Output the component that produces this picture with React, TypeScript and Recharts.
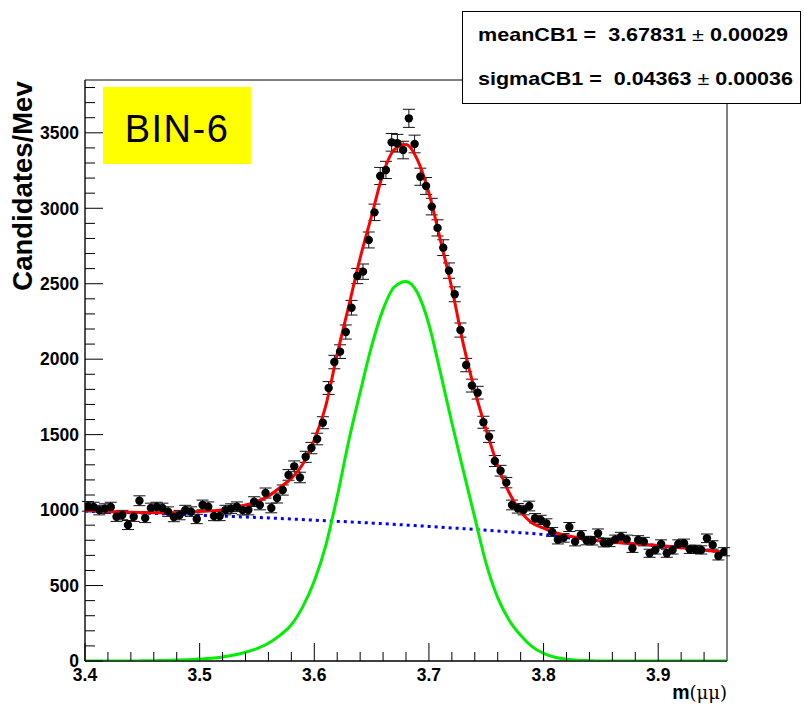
import React from 'react';
import { ComposedChart, XAxis, YAxis, Scatter, Line, ErrorBar, ReferenceArea } from 'recharts';

// Histogram definition (bin width 0.005 GeV starting at 3.40)
const binLow = 3.4;
const binWidth = 0.005;
const counts = [
  1025, 1020, 1000, 1010, 1020, 956, 967, 901, 956, 1062,
  948, 1014, 1020, 1014, 990, 954, 967, 1000, 990, 941,
  1034, 1022, 961, 961, 1000, 1010, 1022, 1000, 1000, 1056,
  1034, 1113, 1014, 1080, 1133, 1233, 1290, 1216, 1353, 1411,
  1471, 1579, 1809, 1981, 2050, 2180, 2341, 2551, 2580, 2790,
  2973, 3214, 3254, 3437, 3431, 3386, 3596, 3426, 3209, 3148,
  3011, 2870, 2739, 2587, 2430, 2193, 1961, 1825, 1778, 1582,
  1487, 1325, 1261, 1182, 1034, 1012, 1000, 1027, 946, 935,
  912, 855, 804, 816, 888, 791, 835, 798, 797, 846,
  784, 786, 806, 824, 806, 747, 802, 791, 714, 736,
  775, 714, 736, 775, 780, 740, 740, 736, 813, 769,
  696, 724,
];

// Fit curves, read on a 0.01 grid
const curveX = [
  3.40, 3.41, 3.42, 3.43, 3.44, 3.45, 3.46, 3.47, 3.48, 3.49,
  3.50, 3.51, 3.52, 3.53, 3.54, 3.55, 3.56, 3.57, 3.58, 3.59,
  3.60, 3.61, 3.62, 3.63, 3.64, 3.65, 3.66, 3.67, 3.68, 3.69,
  3.70, 3.71, 3.72, 3.73, 3.74, 3.75, 3.76, 3.77, 3.78, 3.79,
  3.80, 3.81, 3.82, 3.83, 3.84, 3.85, 3.86, 3.87, 3.88, 3.89,
  3.90, 3.91, 3.92, 3.93, 3.94, 3.95, 3.96,
];
const totalFit = [
  1000, 995, 990, 987, 985, 984, 983, 983, 984, 986,
  990, 995, 1001, 1016, 1034, 1056, 1092, 1150, 1210, 1305,
  1465, 1690, 2035, 2350, 2670, 2950, 3230, 3390, 3422, 3320,
  3100, 2790, 2470, 2100, 1790, 1530, 1295, 1115, 990, 915,
  880, 850, 832, 818, 806, 795, 788, 782, 777, 771,
  765, 758, 750, 743, 735, 727, 719,
];
const signalFit = [
  0, 0, 0, 0, 0, 1, 2, 4, 6, 9,
  13, 18, 27, 40, 58, 82, 118, 170, 240, 360,
  530, 765, 1090, 1456, 1780, 2086, 2330, 2480, 2515, 2440,
  2230, 1912, 1579, 1262, 950, 644, 420, 270, 170, 95,
  50, 25, 12, 5, 2, 0, 0, 0, 0, 0,
  0, 0, 0, 0, 0, 0, 0,
];
const bkgX = [
  3.40, 3.42, 3.44, 3.46, 3.48, 3.50, 3.52, 3.54, 3.56, 3.58,
  3.60, 3.62, 3.64, 3.66, 3.68, 3.70, 3.72, 3.74, 3.76, 3.78,
  3.80, 3.82, 3.84, 3.86, 3.88, 3.90, 3.92, 3.94, 3.96,
];
const bkgFit = [
  993, 988, 983, 978, 972, 966, 960, 954, 948, 941,
  933, 926, 918, 910, 901, 892, 882, 872, 861, 850,
  838, 818, 803, 789, 777, 765, 750, 735, 719,
];

const xTicks = [
  3.40, 3.42, 3.44, 3.46, 3.48, 3.50, 3.52, 3.54, 3.56, 3.58,
  3.60, 3.62, 3.64, 3.66, 3.68, 3.70, 3.72, 3.74, 3.76, 3.78,
  3.80, 3.82, 3.84, 3.86, 3.88, 3.90, 3.92, 3.94,
];
const xMajorLabels = ['3.4', '3.5', '3.6', '3.7', '3.8', '3.9'];
const yTicks = [
  0, 100, 200, 300, 400, 500, 600, 700, 800, 900,
  1000, 1100, 1200, 1300, 1400, 1500, 1600, 1700, 1800, 1900,
  2000, 2100, 2200, 2300, 2400, 2500, 2600, 2700, 2800, 2900,
  3000, 3100, 3200, 3300, 3400, 3500, 3600, 3700, 3800,
];
const xDomain = [3.4, 3.96];
const yDomain = [0, 3850];

const yTitle = 'Candidates/Mev';
const binLabel = 'BIN-6';
const statLines = [
  ['meanCB1 =  ', '3.67831', '0.00029'],
  ['sigmaCB1 =  ', '0.04363', '0.00036'],
];

const points = counts.map((c, i) => ({
  x: binLow + binWidth * (i + 0.5),
  y: c,
  err: Math.sqrt(c),
}));
const totalData = curveX.map((x, i) => ({ x, y: totalFit[i] }));
const signalData = curveX.map((x, i) => ({ x, y: signalFit[i] }));
const bkgData = bkgX.map((x, i) => ({ x, y: bkgFit[i] }));

const FONT = '"Liberation Sans", Arial, Helvetica, sans-serif';

const YTick = (props: any) => {
  const { x, y, payload } = props;
  const v = payload.value as number;
  const major = v % 500 === 0;
  const ax = x + 5;
  return (
    <g>
      <line x1={ax} x2={ax + (major ? 18 : 10)} y1={y} y2={y} stroke="#000" strokeWidth={1} />
      {major && (
        <text x={x - 1} y={y + 6.3} textAnchor="end" fontFamily={FONT} fontWeight="bold" fontSize={17.5} fill="#000">
          {v}
        </text>
      )}
    </g>
  );
};

const XTick = (props: any) => {
  const { x, y, payload } = props;
  const v = payload.value as number;
  const idx = Math.round(v * 10) - 34;
  const major = Math.abs(v * 10 - Math.round(v * 10)) < 1e-6;
  const ay = y - 5;
  return (
    <g>
      <line x1={x} x2={x} y1={ay} y2={ay - (major ? 18 : 9)} stroke="#000" strokeWidth={1} />
      {major && (
        <text x={x} y={ay + 19.5} textAnchor="middle" fontFamily={FONT} fontWeight="bold" fontSize={17.5} fill="#000">
          {xMajorLabels[idx]}
        </text>
      )}
    </g>
  );
};

const Dot = (props: any) => <circle cx={props.cx} cy={props.cy} r={4.2} fill="#000" />;

export default function App() {
  return (
    <div style={{ position: 'fixed', left: 0, top: 0, width: 804, height: 705, background: '#fff' }}>
      <ComposedChart width={804} height={705} margin={{ top: 80, right: 77, bottom: 0, left: 0 }}>
        <XAxis
          type="number"
          dataKey="x"
          domain={xDomain}
          ticks={xTicks}
          interval={0}
          allowDataOverflow
          height={44}
          tickSize={0}
          tickMargin={5}
          tick={<XTick />}
          axisLine={{ stroke: '#000', strokeWidth: 1 }}
        />
        <YAxis
          type="number"
          dataKey="y"
          domain={yDomain}
          ticks={yTicks}
          interval={0}
          allowDataOverflow
          width={85}
          tickSize={0}
          tickMargin={5}
          tick={<YTick />}
          axisLine={{ stroke: '#222', strokeWidth: 1 }}
        />
        <ReferenceArea x1={xDomain[0]} x2={xDomain[1]} y1={yDomain[0]} y2={yDomain[1]} fill="none" stroke="#000" strokeWidth={1} ifOverflow="visible" />
        <Scatter data={points} dataKey="y" shape={<Dot />} isAnimationActive={false}>
          <ErrorBar dataKey="err" direction="y" width={6} stroke="#111" strokeWidth={1} />
        </Scatter>
        <Line data={bkgData} dataKey="y" type="monotone" stroke="#0000ff" strokeWidth={3} strokeDasharray="3 4" dot={false} isAnimationActive={false} />
        <Line data={signalData} dataKey="y" type="monotone" stroke="#00ee00" strokeWidth={3} dot={false} isAnimationActive={false} />
        <Line data={totalData} dataKey="y" type="monotone" stroke="#ff0000" strokeWidth={3} dot={false} isAnimationActive={false} />
      </ComposedChart>
      <svg width={804} height={705} style={{ position: 'absolute', left: 0, top: 0, pointerEvents: 'none' }}>
        <text transform="translate(32,186) rotate(-90)" textAnchor="middle" fontFamily={FONT} fontWeight="bold" fontSize={27.5} fill="#000">
          {yTitle}
        </text>
        <text x={727} y={699} textAnchor="end" fontFamily={FONT} fontSize={19.5} fill="#000">
          <tspan fontWeight="bold">m</tspan>
          <tspan fontFamily='"DejaVu Serif", serif' fontSize={18}>(μμ)</tspan>
        </text>
        <rect x={103} y={87} width={148} height={77} fill="#ffff00" />
        <text x={177} y={142} textAnchor="middle" fontFamily={FONT} fontSize={38} letterSpacing={1.5} fill="#000">
          {binLabel}
        </text>
        <rect x={462.5} y={11.5} width={338} height={92} fill="#fff" stroke="#000" strokeWidth={1} />
        {statLines.map((l, i) => (
          <text
            key={i}
            x={478}
            y={41 + i * 44}
            fontFamily={FONT}
            fontWeight="bold"
            fontSize={19}
            fill="#000"
            textLength={i === 0 ? 310 : 315}
            lengthAdjust="spacingAndGlyphs"
            style={{ whiteSpace: 'pre' }}
          >
            {l[0] + l[1] + ' '}
            <tspan fontWeight="normal">±</tspan>
            {' ' + l[2]}
          </text>
        ))}
      </svg>
    </div>
  );
}
